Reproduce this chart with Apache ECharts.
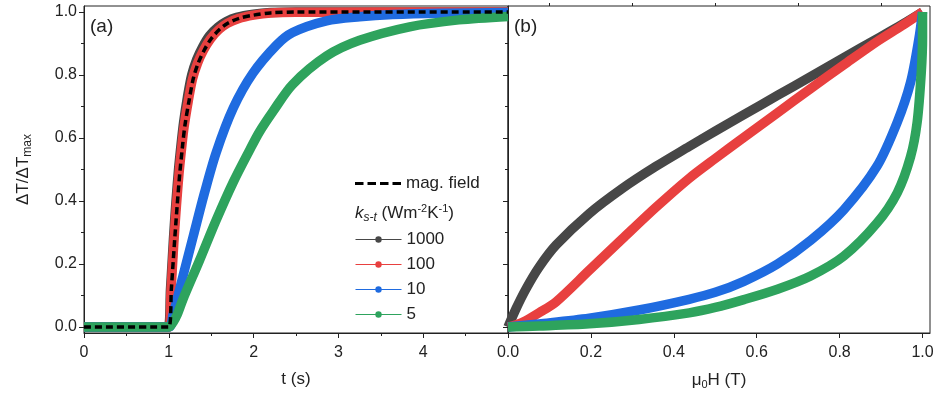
<!DOCTYPE html>
<html lang="en">
<head>
<meta charset="UTF-8">
<title>ΔT/ΔTmax</title>
<script src="https://cdn.jsdelivr.net/npm/echarts@6.0.0/dist/echarts.min.js"></script>
</head>
<body style="margin:0;background:#ffffff;">
<div id="container" style="width:940px;height:399px;"></div>
<script>
// panel (a): time response, [t (s), dT/dTmax]
var fieldA = [[0,0],[1,0],[1.03,0.12],[1.07,0.28],[1.1,0.39],[1.13,0.49],[1.16,0.57],[1.19,0.64],[1.24,0.72],[1.29,0.79],[1.35,0.84],[1.42,0.88],[1.5,0.915],[1.6,0.945],[1.7,0.965],[1.83,0.98],[2.0,0.99],[2.2,0.997],[2.5,1.0],[5,1.0]];
var k1000A = [[0,0],[0.99,0],[1.02,0.12],[1.055,0.28],[1.085,0.40],[1.115,0.50],[1.145,0.58],[1.175,0.65],[1.22,0.73],[1.27,0.80],[1.33,0.85],[1.4,0.89],[1.48,0.925],[1.58,0.952],[1.68,0.97],[1.8,0.983],[2.0,0.993],[2.2,0.998],[2.5,1.0],[5,1.0]];
var k100A = [[0,0],[1,0],[1.025,0.11],[1.06,0.27],[1.09,0.385],[1.12,0.485],[1.15,0.565],[1.18,0.635],[1.23,0.718],[1.28,0.788],[1.34,0.838],[1.41,0.879],[1.49,0.914],[1.59,0.944],[1.69,0.964],[1.82,0.979],[2.0,0.99],[2.2,0.997],[2.5,0.999],[5,1.0]];
var k10A = [[0,0],[1,0],[1.05,0.04],[1.1,0.09],[1.17,0.165],[1.29,0.29],[1.42,0.425],[1.56,0.555],[1.76,0.695],[1.99,0.805],[2.27,0.895],[2.46,0.935],[2.86,0.972],[3.25,0.985],[3.64,0.992],[4.2,0.996],[5,0.998]];
var k5A = [[0,0],[1,0],[1.05,0.015],[1.1,0.04],[1.17,0.09],[1.36,0.21],[1.56,0.34],[1.76,0.46],[1.95,0.56],[2.07,0.62],[2.23,0.685],[2.46,0.77],[2.86,0.86],[3.25,0.91],[3.84,0.953],[4.42,0.975],[5,0.986]];

// panel (b): [mu0H (T), dT/dTmax]
var k1000B = [[0,0],[0.02,0.06],[0.043,0.12],[0.075,0.19],[0.116,0.26],[0.196,0.36],[0.276,0.44],[0.357,0.51],[0.437,0.573],[0.5,0.622],[0.569,0.674],[0.65,0.735],[0.73,0.795],[0.81,0.855],[0.89,0.915],[0.95,0.96],[1,1]];
var k100B = [[0,0],[0.02,0.007],[0.043,0.02],[0.075,0.045],[0.116,0.08],[0.196,0.18],[0.276,0.28],[0.357,0.38],[0.437,0.472],[0.5,0.535],[0.569,0.602],[0.65,0.68],[0.73,0.757],[0.81,0.832],[0.89,0.906],[0.95,0.956],[1,1]];
var k10B = [[0,0],[0.075,0.01],[0.196,0.028],[0.316,0.054],[0.437,0.088],[0.5,0.11],[0.569,0.145],[0.65,0.2],[0.73,0.275],[0.81,0.372],[0.89,0.51],[0.939,0.65],[0.971,0.776],[0.991,0.913],[1,1]];
var k5B = [[0,0],[0.075,0.003],[0.196,0.01],[0.316,0.024],[0.437,0.045],[0.5,0.062],[0.569,0.087],[0.65,0.12],[0.73,0.162],[0.81,0.225],[0.89,0.33],[0.939,0.426],[0.971,0.54],[0.987,0.65],[0.997,0.81],[1,0.92],[1,1]];

// ticks
var yMajor = [0, 0.2, 0.4, 0.6, 0.8, 1.0];
var yMinor = [0.1, 0.3, 0.5, 0.7, 0.9];
var hMajor = [0, 0.2, 0.4, 0.6, 0.8, 1.0];
var hMinor = [0.1, 0.3, 0.5, 0.7, 0.9];
var kNames = ['1000', '100', '10', '5'];
var kColors = ['#474747', '#e8403f', '#1f6be0', '#2ea35d'];

var font = "'Liberation Sans', Arial, sans-serif";
var ink = '#222';
var yMin = -0.019, yMax = 1.019;

var chart = echarts.init(document.getElementById('container'));

function majorY(grid, labels) {
    return {
        type: 'value', gridIndex: grid, position: 'left', min: yMin, max: yMax,
        axisLine: { show: true, onZero: false, lineStyle: { color: ink, width: 1 } },
        axisTick: { show: true, length: 5, customValues: yMajor, lineStyle: { color: ink } },
        axisLabel: { show: labels, customValues: yMajor, margin: 7, color: ink, fontSize: 16, fontFamily: font,
            formatter: function (v) { return v.toFixed(1); } },
        splitLine: { show: false }
    };
}
function minorY(grid) {
    return {
        type: 'value', gridIndex: grid, position: 'left', min: yMin, max: yMax,
        axisLine: { show: false, onZero: false },
        axisTick: { show: true, length: 3, customValues: yMinor, lineStyle: { color: ink } },
        axisLabel: { show: false },
        splitLine: { show: false }
    };
}

var lineSeries = function (name, data, color, xi, yi) {
    return {
        name: name, type: 'line', data: data, xAxisIndex: xi, yAxisIndex: yi,
        symbol: 'none', color: color, smooth: 0.3,
        lineStyle: { width: 9.5, color: color, cap: 'butt', join: 'round' }
    };
};

var option = {
    backgroundColor: '#ffffff',
    animation: false,
    textStyle: { fontFamily: font },
    grid: [
        { left: 84, top: 6, width: 424, height: 327, show: true, borderColor: ink, borderWidth: 1 },
        { left: 508, top: 6, width: 422, height: 327, show: true, borderColor: ink, borderWidth: 1 }
    ],
    xAxis: [
        {
            type: 'value', gridIndex: 0, min: 0, max: 5, interval: 1,
            name: 't (s)', nameLocation: 'middle', nameGap: 38,
            nameTextStyle: { fontSize: 17, color: ink, fontFamily: font },
            axisLine: { onZero: false, lineStyle: { color: ink, width: 1 } },
            axisTick: { length: 5, lineStyle: { color: ink } },
            minorTick: { show: true, splitNumber: 2, length: 3, lineStyle: { color: ink } },
            axisLabel: { margin: 12, color: ink, fontSize: 16, fontFamily: font, showMaxLabel: false },
            splitLine: { show: false }
        },
        {
            type: 'value', gridIndex: 1, min: 0, max: 1.018,
            name: '{t|μ}{s|0}{t|H (T)}', nameLocation: 'middle', nameGap: 38,
            nameTextStyle: {
                color: ink, fontFamily: font,
                rich: {
                    t: { fontSize: 17, color: ink, fontFamily: font, lineHeight: 18 },
                    s: { fontSize: 11, color: ink, fontFamily: font, lineHeight: 11, padding: [9, 0, 0, 0] }
                }
            },
            axisLine: { onZero: false, lineStyle: { color: ink, width: 1 } },
            axisTick: { length: 5, customValues: hMajor, lineStyle: { color: ink } },
            axisLabel: { margin: 12, customValues: hMajor, color: ink, fontSize: 16, fontFamily: font,
                formatter: function (v) { return v.toFixed(1); } },
            splitLine: { show: false }
        },
        {
            type: 'value', gridIndex: 1, min: 0, max: 1.018,
            axisLine: { show: false, onZero: false },
            axisTick: { length: 3, customValues: hMinor, lineStyle: { color: ink } },
            axisLabel: { show: false },
            splitLine: { show: false }
        }
    ],
    yAxis: [
        Object.assign(majorY(0, true), {
            name: '{t|ΔT/ΔT}{s|max}', nameLocation: 'middle', nameGap: 52,
            nameTextStyle: {
                color: ink, fontFamily: font,
                rich: {
                    t: { fontSize: 17, color: ink, fontFamily: font, lineHeight: 18 },
                    s: { fontSize: 12, color: ink, fontFamily: font, lineHeight: 12, padding: [9, 0, 0, 0] }
                }
            }
        }),
        minorY(0),
        majorY(1, false),
        minorY(1)
    ],
    legend: [
        {
            left: 355, top: 175, padding: 0, selectedMode: false,
            itemWidth: 46, itemHeight: 3, symbolKeepAspect: false,
            itemStyle: { borderWidth: 0 },
            textStyle: { fontSize: 17, color: ink, fontFamily: font },
            data: [{ name: 'mag. field',
                icon: 'path://M0,0h8.5v3h-8.5z M12.5,0h8.5v3h-8.5z M25,0h8.5v3h-8.5z M37.5,0h8.5v3h-8.5z' }]
        },
        {
            left: 355, top: 231, padding: 0, selectedMode: false, orient: 'vertical',
            itemWidth: 46, itemHeight: 8, itemGap: 8,
            lineStyle: { width: 1 },
            itemStyle: { borderWidth: 0 },
            textStyle: { fontSize: 17, color: ink, fontFamily: font },
            data: kNames
        }
    ],
    graphic: [
        { type: 'text', left: 90, top: 17, style: { text: '(a)', fontSize: 19, fill: ink, fontFamily: font } },
        { type: 'text', left: 514, top: 17, style: { text: '(b)', fontSize: 19, fill: ink, fontFamily: font } },
        {
            type: 'text', left: 355, top: 203,
            style: {
                text: '{k|k}{ks|s-t}{a| (Wm}{sp|-2}{a|K}{sp|-1}{a|)}',
                fill: ink, fontFamily: font,
                rich: {
                    k: { fontSize: 17, fontStyle: 'italic', fill: ink, fontFamily: font, lineHeight: 18 },
                    ks: { fontSize: 12, fontStyle: 'italic', fill: ink, fontFamily: font, lineHeight: 12, padding: [9, 0, 0, 0] },
                    a: { fontSize: 17, fill: ink, fontFamily: font, lineHeight: 18 },
                    sp: { fontSize: 11, fill: ink, fontFamily: font, lineHeight: 11, padding: [0, 0, 9, 0] }
                }
            }
        }
    ],
    series: [
        lineSeries(kNames[0], k1000A, kColors[0], 0, 0),
        lineSeries(kNames[1], k100A, kColors[1], 0, 0),
        lineSeries(kNames[2], k10A, kColors[2], 0, 0),
        lineSeries(kNames[3], k5A, kColors[3], 0, 0),
        {
            name: 'mag. field', type: 'line', data: fieldA, xAxisIndex: 0, yAxisIndex: 0,
            symbol: 'none', color: '#000', smooth: 0.3,
            lineStyle: { width: 3.5, color: '#000', type: [7, 4] }
        },
        lineSeries(kNames[0], k1000B, kColors[0], 1, 2),
        lineSeries(kNames[1], k100B, kColors[1], 1, 2),
        lineSeries(kNames[2], k10B, kColors[2], 1, 2),
        lineSeries(kNames[3], k5B, kColors[3], 1, 2)
    ]
};
chart.setOption(option);
</script>
</body>
</html>
